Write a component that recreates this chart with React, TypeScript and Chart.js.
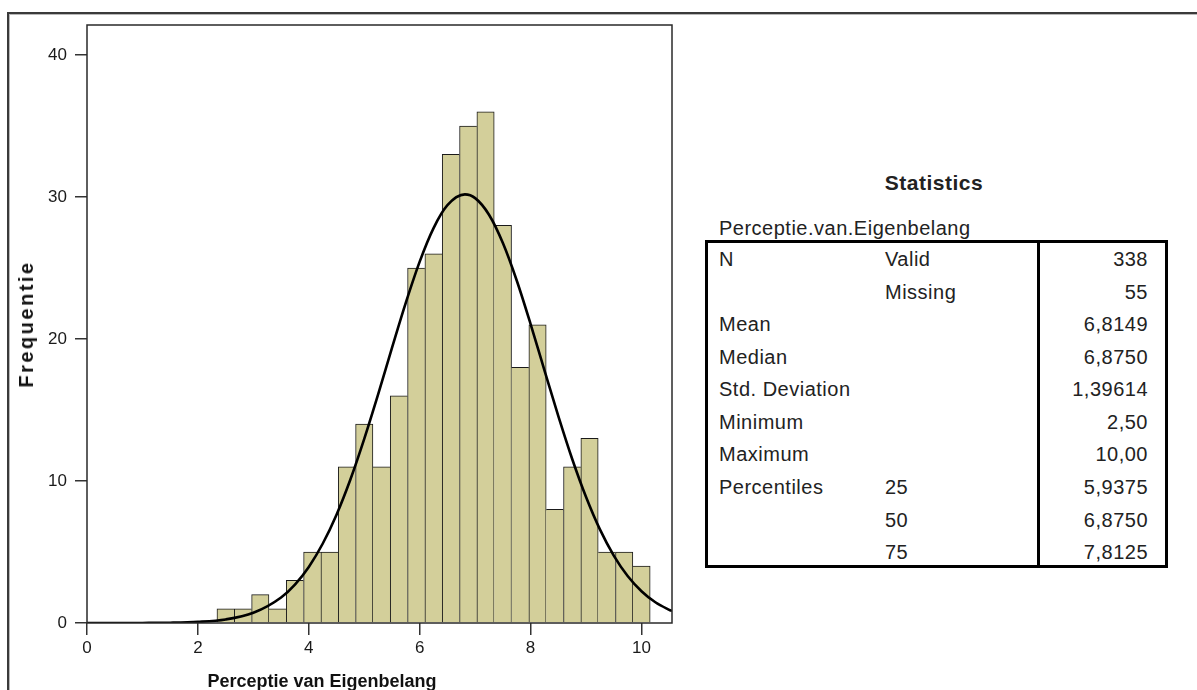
import React, { useEffect, useRef } from "react";
import { Chart, registerables } from "chart.js";

Chart.register(...registerables);

// Histogram: bin centres (width 0.3125) and frequencies
const binCenters = [2.5, 2.8125, 3.125, 3.4375, 3.75, 4.0625, 4.375, 4.6875, 5, 5.3125, 5.625, 5.9375, 6.25, 6.5625, 6.875, 7.1875, 7.5, 7.8125, 8.125, 8.4375, 8.75, 9.0625, 9.375, 9.6875, 10];
const counts = [1, 1, 2, 1, 3, 5, 5, 11, 14, 11, 16, 25, 26, 33, 35, 36, 28, 18, 21, 8, 11, 13, 5, 5, 4];

// Normal curve
const curveX = [0, 0.5, 1, 1.5, 2, 2.5, 3, 3.5, 3.75, 4, 4.25, 4.5, 4.75, 5, 5.25, 5.5, 5.75, 6, 6.25, 6.5, 6.8149, 7, 7.25, 7.5, 7.75, 8, 8.25, 8.5, 8.75, 9, 9.25, 9.5, 9.75, 10, 10.25, 10.5, 10.55];
const curveY = [0, 0.001, 0.005, 0.02, 0.08, 0.25, 0.72, 1.8, 2.71, 3.95, 5.58, 7.63, 10.11, 12.97, 16.1, 19.37, 22.56, 25.45, 27.81, 29.42, 30.18, 29.92, 28.75, 26.76, 24.12, 21.05, 17.79, 14.57, 11.55, 8.87, 6.59, 4.75, 3.31, 2.24, 1.46, 0.93, 0.84];

const xTitle = "Perceptie van Eigenbelang";
const yTitle = "Frequentie";

// Statistics table
const tableTitle = "Statistics";
const tableVariable = "Perceptie.van.Eigenbelang";
const statLabels = ["N", "", "Mean", "Median", "Std. Deviation", "Minimum", "Maximum", "Percentiles", "", ""];
const statSubLabels = ["Valid", "Missing", "", "", "", "", "", "25", "50", "75"];
const statValues = ["338", "55", "6,8149", "6,8750", "1,39614", "2,50", "10,00", "5,9375", "6,8750", "7,8125"];

const FONT = 'Arial, "Liberation Sans", sans-serif';

const framePlugin = {
  id: "plotFrame",
  afterDatasetsDraw(chart: any) {
    const { ctx, chartArea } = chart;
    const { left, top, right, bottom } = chartArea;
    ctx.save();
    ctx.strokeStyle = "#2a2a2a";
    ctx.lineWidth = 1.5;
    ctx.strokeRect(left, top, right - left, bottom - top);
    ctx.restore();
  },
};

export default function App() {
  const canvasRef = useRef<HTMLCanvasElement | null>(null);

  useEffect(() => {
    if (!canvasRef.current) return;
    const n = counts.length;
    const chart = new Chart(canvasRef.current, {
      type: "bar",
      data: {
        datasets: [
          {
            type: "line",
            data: curveX.map((x, i) => ({ x, y: curveY[i] })),
            borderColor: "#000000",
            borderWidth: 2.6,
            pointRadius: 0,
            fill: false,
            cubicInterpolationMode: "monotone",
            order: 0,
          } as any,
          {
            type: "bar",
            data: binCenters.map((x, i) => ({ x, y: counts[i] })),
            backgroundColor: "#d3cf9a",
            borderColor: "#1a1a1a",
            borderSkipped: false,
            borderWidth: (ctx: any) => {
              const i = ctx.dataIndex;
              const left = i === 0 || counts[i - 1] <= counts[i] ? 1 : 0;
              const right = i === n - 1 || counts[i + 1] < counts[i] ? 1 : 0;
              return { top: 1, left, right, bottom: 0 };
            },
            barPercentage: 1,
            categoryPercentage: 1,
            order: 1,
          } as any,
        ],
      },
      options: {
        animation: false,
        responsive: false,
        maintainAspectRatio: false,
        layout: { padding: { top: 25, right: 28, left: 0, bottom: 0 } },
        plugins: { legend: { display: false }, tooltip: { enabled: false } },
        scales: {
          x: {
            type: "linear",
            min: 0,
            max: 10.55,
            offset: false,
            ticks: {
              stepSize: 2,
              includeBounds: false,
              color: "#1a1a1a",
              font: { family: FONT, size: 17 },
              padding: 3,
              maxRotation: 0,
              autoSkip: false,
            },
            grid: { drawOnChartArea: false, drawTicks: true, tickLength: 12, color: "#333", lineWidth: 1.5, offset: false },
            border: { display: false },
            afterFit(s: any) {
              s.height = 67;
            },
          },
          y: {
            type: "linear",
            min: 0,
            max: 42.11,
            ticks: {
              stepSize: 10,
              includeBounds: false,
              color: "#1a1a1a",
              font: { family: FONT, size: 17 },
              padding: 8,
            },
            grid: { drawOnChartArea: false, drawTicks: true, tickLength: 12, color: "#333", lineWidth: 1.5 },
            border: { display: false },
            afterFit(s: any) {
              s.width = 87;
            },
          },
        },
      } as any,
      plugins: [framePlugin],
    });
    return () => chart.destroy();
  }, []);

  const rowCenters = [259, 291.5, 324, 356.5, 389, 421.5, 454, 487, 519.5, 552];
  const textStyle: React.CSSProperties = {
    position: "absolute",
    fontFamily: FONT,
    fontSize: 20,
    letterSpacing: "0.5px",
    color: "#222",
    lineHeight: "24px",
    height: 24,
    whiteSpace: "nowrap",
  };

  return (
    <div style={{ position: "fixed", left: 0, top: 0, width: 1197, height: 690, overflow: "hidden", background: "#fff" }}>
      <div
        style={{
          position: "absolute",
          left: 7,
          top: 12,
          width: 1400,
          height: 900,
          borderTop: "2px solid #3a3a3a",
          borderLeft: "2px solid #3a3a3a",
          boxShadow: "inset 1px 1px 0 #b8b8b8",
        }}
      />
      <canvas ref={canvasRef} width={700} height={690} style={{ position: "absolute", left: 0, top: 0, width: 700, height: 690 }} />
      <div
        style={{
          position: "absolute",
          left: 25.5,
          top: 324,
          transform: "translate(-50%, -50%) rotate(-90deg)",
          fontFamily: FONT,
          fontWeight: "bold",
          fontSize: 20,
          letterSpacing: "2.5px",
          lineHeight: "20px",
          color: "#111",
          whiteSpace: "nowrap",
        }}
      >
        {yTitle}
      </div>
      <div
        style={{
          position: "absolute",
          left: 322,
          top: 672,
          transform: "translateX(-50%)",
          fontFamily: FONT,
          fontWeight: "bold",
          fontSize: 18,
          lineHeight: "18px",
          color: "#111",
          whiteSpace: "nowrap",
        }}
      >
        {xTitle}
      </div>

      <div
        style={{
          position: "absolute",
          left: 934,
          top: 183 - 12,
          transform: "translateX(-50%)",
          fontFamily: FONT,
          fontWeight: "bold",
          fontSize: 21,
          letterSpacing: "0.5px",
          lineHeight: "24px",
          color: "#222",
          whiteSpace: "nowrap",
        }}
      >
        {tableTitle}
      </div>
      <div style={{ ...textStyle, left: 719, top: 228 - 12 }}>{tableVariable}</div>
      <div
        style={{
          position: "absolute",
          left: 705,
          top: 240,
          width: 463,
          height: 328,
          boxSizing: "border-box",
          border: "3px solid #000",
        }}
      />
      <div style={{ position: "absolute", left: 1037, top: 240, width: 3, height: 328, background: "#000" }} />
      {rowCenters.map((c, i) => (
        <React.Fragment key={i}>
          {statLabels[i] ? <div style={{ ...textStyle, left: 719, top: c - 12 }}>{statLabels[i]}</div> : null}
          {statSubLabels[i] ? <div style={{ ...textStyle, left: 885, top: c - 12 }}>{statSubLabels[i]}</div> : null}
          <div style={{ ...textStyle, right: 1197 - 1148, top: c - 12, textAlign: "right" }}>{statValues[i]}</div>
        </React.Fragment>
      ))}
    </div>
  );
}
